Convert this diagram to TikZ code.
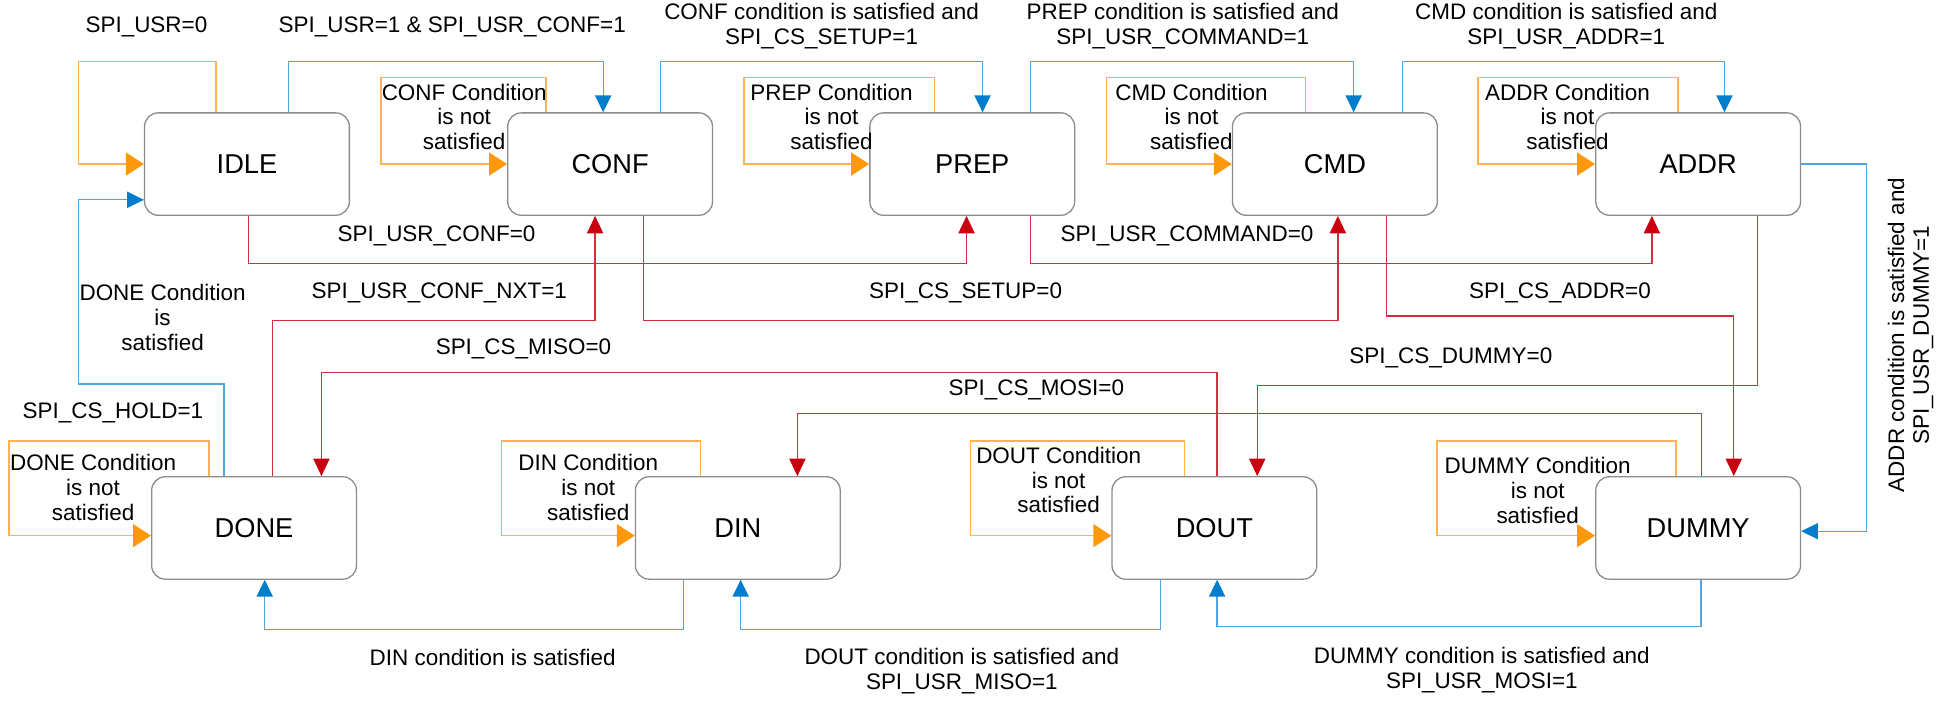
\documentclass[tikz,border=0pt]{standalone}
\usepackage{fontspec}
\setmainfont{Liberation Sans}
\usepackage{tikz}
\usetikzlibrary{arrows.meta, positioning}

\definecolor{orangeline}{RGB}{255,178,80}
\definecolor{orangetip}{RGB}{255,152,10}
\definecolor{blueline}{RGB}{80,165,225}
\definecolor{bluetip}{RGB}{0,125,205}
\definecolor{redline}{RGB}{212,45,62}
\definecolor{redtip}{RGB}{200,0,15}
\definecolor{boxgray}{RGB}{140,140,140}

\begin{document}
\begin{tikzpicture}[
    x=0.2mm, y=-0.2mm,
    % Define standard styles for the states and transitions
    state/.style={
        rectangle,
        draw=boxgray,
        fill=white,
        line width=0.6pt,
        minimum width=33mm,
        minimum height=16.5mm,
        inner sep=0pt,
        rounded corners=2.2mm,
        font=\fontsize{12.5}{14}\selectfont
    },
    lbl/.style={
        align=center,
        inner sep=0pt,
        font=\fontsize{10.3}{11.4}\selectfont
    },
    stayedge/.style={
        -{Triangle[length=2.9mm, width=3.7mm, color=orangetip]},
        line width=0.6pt,
        draw=orangeline
    },
    nextedge/.style={
        -{Triangle[length=2.7mm, width=2.6mm, color=bluetip]},
        line width=0.6pt,
        draw=blueline
    },
    jumpedge/.style={
        -{Triangle[length=2.8mm, width=2.6mm, color=redtip]},
        line width=0.6pt,
        draw=redline
    }
]
\useasboundingbox (0,0) rectangle (1568,565);

% --- States ---
\node[state] (idle)  at (199,132.2)    {IDLE};
\node[state] (conf)  at (491.6,132.2)  {CONF};
\node[state] (prep)  at (783.4,132.2)  {PREP};
\node[state] (cmd)   at (1075.6,132.2) {CMD};
\node[state] (addr)  at (1368.3,132.2) {ADDR};
\node[state] (done)  at (204.7,425.4)  {DONE};
\node[state] (din)   at (594.5,425.4)  {DIN};
\node[state] (dout)  at (978.5,425.4)  {DOUT};
\node[state] (dummy) at (1368.3,425.4) {DUMMY};

% --- Staying in a state (orange) ---
\draw[stayedge] (idle.north -| 174,0)    |- (63.5,49.7)   |- (idle.west);
\draw[stayedge] (conf.north -| 440,0)    |- (307,62.6)    |- (conf.west);
\draw[stayedge] (prep.north -| 752.9,0)  |- (599.5,62.6)  |- (prep.west);
\draw[stayedge] (cmd.north -| 1052,0)    |- (891.7,62.6)  |- (cmd.west);
\draw[stayedge] (addr.north -| 1352,0)   |- (1191,62.6)   |- (addr.west);
\draw[stayedge] (done.north -| 168.3,0)  |- (7.2,355.4)   |- (done.west |- 0,431.6);
\draw[stayedge] (din.north -| 564.4,0)   |- (404.3,355.4) |- (din.west |- 0,431.6);
\draw[stayedge] (dout.north -| 954.3,0)  |- (781.7,355.4) |- (dout.west |- 0,431.6);
\draw[stayedge] (dummy.north -| 1350.5,0) |- (1157.8,355.4) |- (dummy.west |- 0,431.6);

% --- Next state (blue) ---
\draw[nextedge] (idle.north -| 232.5,0) |- (486,49.7)    -- (conf.north -| 486,0);
\draw[nextedge] (conf.north -| 532,0)   |- (791.7,49.7)  -- (prep.north -| 791.7,0);
\draw[nextedge] (prep.north -| 830.5,0) |- (1090.7,49.7) -- (cmd.north -| 1090.7,0);
\draw[nextedge] (cmd.north -| 1129.8,0) |- (1389.5,49.7) -- (addr.north -| 1389.5,0);
\draw[nextedge] (addr.east) -| (1504,428) -- (dummy.east |- 0,428);
\draw[nextedge] (dummy.south -| 1370.6,0) |- (980.7,505) -- (dout.south -| 980.7,0);
\draw[nextedge] (dout.south -| 935,0)    |- (596.8,507) -- (din.south -| 596.8,0);
\draw[nextedge] (din.south -| 551,0)     |- (213.3,507) -- (done.south -| 213.3,0);
\draw[nextedge] (done.north -| 180.6,0)  |- (63.5,309.5) |- (idle.west |- 0,161);

% --- Skipping states (red) ---
\draw[jumpedge] (idle.south -| 200.4,0) |- (778.8,212.2) -- (prep.south -| 778.8,0);
\draw[jumpedge] (prep.south -| 830.5,0) |- (1331,212.2)  -- (addr.south -| 1331,0);
\draw[jumpedge] (conf.south -| 518.5,0) |- (1078,258)    -- (cmd.south -| 1078,0);
\draw[jumpedge] (done.north -| 219.4,0) |- (479.5,258)   -- (conf.south -| 479.5,0);
\draw[jumpedge] (cmd.south -| 1117,0)   |- (1397,254.6)  -- (dummy.north -| 1397,0);
\draw[jumpedge] (addr.south -| 1416,0)  |- (1013,310.8)  -- (dout.north -| 1013,0);
\draw[jumpedge] (dout.north -| 980.7,0) |- (259,300.3)   -- (done.north -| 259,0);
\draw[jumpedge] (dummy.north -| 1371,0) |- (642.5,333)   -- (din.north -| 642.5,0);

% --- Labels ---
\node[lbl] (usrzero)  at (118,21.5)   {SPI\_USR=0};
\node[lbl] (usrone)   at (364.4,21.5) {SPI\_USR=1 \& SPI\_USR\_CONF=1};
\node[lbl] (confok)   at (662,21.1)   {CONF condition is satisfied and\\SPI\_CS\_SETUP=1};
\node[lbl] (prepok)   at (953,21.1)   {PREP condition is satisfied and\\SPI\_USR\_COMMAND=1};
\node[lbl] (cmdok)    at (1262,21.1)  {CMD condition is satisfied and\\SPI\_USR\_ADDR=1};
\node[lbl] (confwait) at (374,94.2)   {CONF Condition\\is not\\satisfied};
\node[lbl] (prepwait) at (670,94.2)   {PREP Condition\\is not\\satisfied};
\node[lbl] (cmdwait)  at (960,94.2)   {CMD Condition\\is not\\satisfied};
\node[lbl] (addrwait) at (1263,94.2)  {ADDR Condition\\is not\\satisfied};
\node[lbl] (confoff)  at (351.7,190)  {SPI\_USR\_CONF=0};
\node[lbl] (cmdoff)   at (956.5,190)  {SPI\_USR\_COMMAND=0};
\node[lbl] (confnxt)  at (354,235.8)  {SPI\_USR\_CONF\_NXT=1};
\node[lbl] (setupoff) at (778,235.8)  {SPI\_CS\_SETUP=0};
\node[lbl] (addroff)  at (1257,235.8) {SPI\_CS\_ADDR=0};
\node[lbl] (doneok)   at (131,255.7)  {DONE Condition\\is\\satisfied};
\node[lbl] (misooff)  at (421.8,281.2) {SPI\_CS\_MISO=0};
\node[lbl] (dummyoff) at (1169,288)   {SPI\_CS\_DUMMY=0};
\node[lbl] (mosioff)  at (835,314.3)  {SPI\_CS\_MOSI=0};
\node[lbl] (hold)     at (91,333)     {SPI\_CS\_HOLD=1};
\node[lbl] (donewait) at (75,392.7)   {DONE Condition\\is not\\satisfied};
\node[lbl] (dinwait)  at (474,392.7)  {DIN Condition\\is not\\satisfied};
\node[lbl] (doutwait) at (853,386.8)  {DOUT Condition\\is not\\satisfied};
\node[lbl] (dummywait) at (1239,395.4) {DUMMY Condition\\is not\\satisfied};
\node[lbl] (dinok)    at (397,529.7)  {DIN condition is satisfied};
\node[lbl] (doutok)   at (775,540.5)  {DOUT condition is satisfied and\\SPI\_USR\_MISO=1};
\node[lbl] (dummyok)  at (1194,539.8) {DUMMY condition is satisfied and\\SPI\_USR\_MOSI=1};
\node[lbl, rotate=90] (addrok) at (1539.5,270) {ADDR condition is satisfied and\\SPI\_USR\_DUMMY=1};

\end{tikzpicture}
\end{document}
